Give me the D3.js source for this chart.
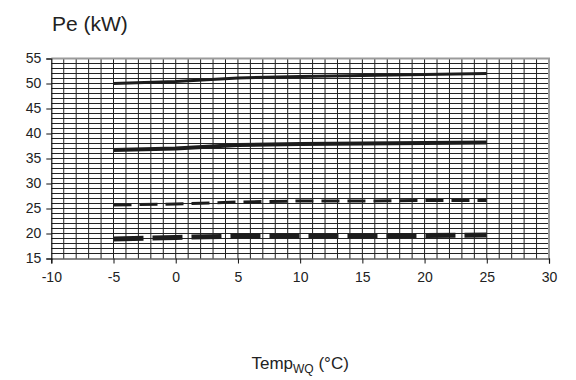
<!DOCTYPE html>
<html>
<head>
<meta charset="utf-8">
<script src="https://cdn.jsdelivr.net/npm/d3@7"></script>
<style>
  body { margin: 0; background: #fff; }
  text { font-family: "Liberation Sans", Arial, sans-serif; fill: #222; }
</style>
</head>
<body>
<script>
// values
var temps = [-5, 0, 5, 10, 15, 20, 25];
var pe1 = [50.0, 50.4, 51.1, 51.4, 51.6, 51.8, 52.0];
var pe2 = [36.7, 37.0, 37.7, 37.9, 38.0, 38.1, 38.2];
var pe3 = [25.7, 25.9, 26.3, 26.5, 26.5, 26.6, 26.6];
var pe4 = [18.9, 19.2, 19.5, 19.5, 19.5, 19.6, 19.7];
var xTicks = [-10, -5, 0, 5, 10, 15, 20, 25, 30];
var yTicks = [15, 20, 25, 30, 35, 40, 45, 50, 55];

var width = 576, height = 380;
var x = d3.scaleLinear().domain([-10, 30]).range([51.3, 549]);
var y = d3.scaleLinear().domain([15, 55]).range([258.5, 58.5]);

var svg = d3.select("body").append("svg")
    .attr("width", width)
    .attr("height", height);

// fine grid, one line per unit
var grid = svg.append("g").attr("stroke", "#222").attr("stroke-width", 1);
grid.selectAll("line.v")
    .data(d3.range(-9, 30))
  .enter().append("line")
    .attr("x1", function(d) { return x(d); })
    .attr("x2", function(d) { return x(d); })
    .attr("y1", y(55))
    .attr("y2", y(15));
grid.selectAll("line.h")
    .data(d3.range(16, 55))
  .enter().append("line")
    .attr("x1", x(-10))
    .attr("x2", x(30))
    .attr("y1", function(d) { return y(d); })
    .attr("y2", function(d) { return y(d); });

// gray frame top and right
svg.append("path")
    .attr("d", "M" + x(-10) + "," + y(55) + "H" + x(30) + "V" + y(15))
    .attr("fill", "none")
    .attr("stroke", "#9a9a9a")
    .attr("stroke-width", 2);

var fmt = function(d) { return String(d); };   // plain hyphen minus
var yAxis = svg.append("g")
    .attr("transform", "translate(" + x(-10) + ",0)")
    .call(d3.axisLeft(y).tickValues(yTicks).tickFormat(fmt).tickSize(5).tickPadding(5));
var xAxis = svg.append("g")
    .attr("transform", "translate(0," + y(15) + ")")
    .call(d3.axisBottom(x).tickValues(xTicks).tickFormat(fmt).tickSize(5).tickPadding(9));
[xAxis, yAxis].forEach(function(a) {
  a.select(".domain").attr("stroke", "#111").attr("stroke-width", 1.2);
  a.selectAll(".tick line").attr("stroke", "#111");
  a.selectAll("text")
    .style("font-size", "14px")
    .style("font-family", "Liberation Sans, Arial, sans-serif")
    .attr("fill", "#222");
});

var line = d3.line()
    .x(function(d) { return x(d[0]); })
    .y(function(d) { return y(d[1]); });

var series = [
  { values: pe1, width: 3, dash: null },
  { values: pe2, width: 4, dash: null },
  { values: pe3, width: 3, dash: "18,8" },
  { values: pe4, width: 5, dash: "30,9" }
];

svg.append("g").selectAll("path")
    .data(series)
  .enter().append("path")
    .attr("d", function(s) { return line(d3.zip(temps, s.values)); })
    .attr("fill", "none")
    .attr("stroke", "#1c1c1c")
    .attr("stroke-width", function(s) { return s.width; })
    .attr("stroke-dasharray", function(s) { return s.dash; });

svg.append("text")
    .attr("x", 52)
    .attr("y", 31)
    .style("font-size", "21px")
    .text("Pe (kW)");

var xl = svg.append("text")
    .attr("x", (x(-10) + x(30)) / 2)
    .attr("y", 369)
    .attr("text-anchor", "middle")
    .style("font-size", "17px");
xl.append("tspan").text("Temp");
xl.append("tspan").attr("dy", 4).style("font-size", "12px").text("WQ");
xl.append("tspan").attr("dy", -4).text(" (°C)");
</script>
</body>
</html>
